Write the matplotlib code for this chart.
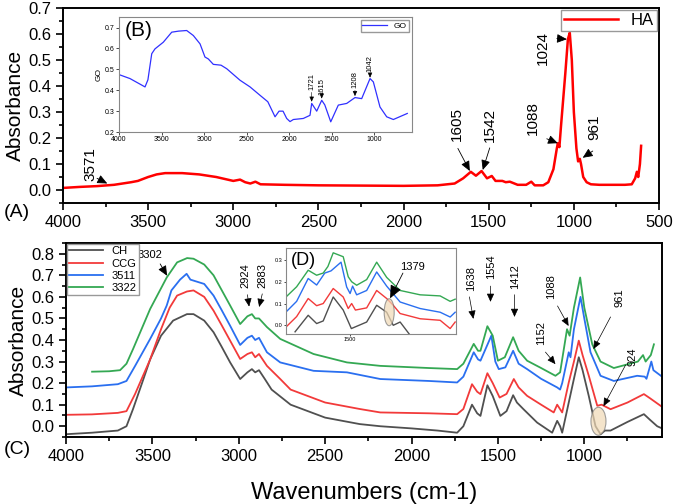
import matplotlib
matplotlib.use('Agg')
import matplotlib.pyplot as plt
from matplotlib.patches import Ellipse
from matplotlib.ticker import MultipleLocator

plt.rcParams['font.family'] = ['Liberation Sans', 'DejaVu Sans']

# ---- data: HA spectrum (panel A) ----
ha_wn = [4000, 3900, 3800, 3700, 3650, 3600, 3560, 3500, 3450, 3400, 3300, 3200,
         3100, 3000, 2960, 2930, 2900, 2870, 2840, 2700, 2500, 2000, 1800, 1700,
         1650, 1605, 1575, 1542, 1510, 1482, 1460, 1420, 1400, 1376, 1330, 1280,
         1250, 1230, 1180, 1150, 1120, 1100, 1094, 1085, 1075, 1050, 1035, 1024,
         1012, 1000, 985, 975, 965, 958, 945, 925, 900, 850, 700, 660, 640, 630,
         622, 612, 605]
ha_abs = [0.008, 0.012, 0.015, 0.02, 0.025, 0.03, 0.035, 0.05, 0.06, 0.065, 0.065,
          0.06, 0.05, 0.035, 0.04, 0.03, 0.025, 0.032, 0.022, 0.02, 0.018, 0.016,
          0.018, 0.025, 0.045, 0.07, 0.055, 0.073, 0.045, 0.054, 0.035, 0.035,
          0.03, 0.032, 0.02, 0.02, 0.032, 0.018, 0.018, 0.03, 0.08, 0.16, 0.18,
          0.165, 0.25, 0.45, 0.58, 0.605, 0.5, 0.3, 0.16, 0.11, 0.12, 0.1, 0.05,
          0.03, 0.022, 0.02, 0.02, 0.022, 0.045, 0.07, 0.05, 0.1, 0.17]

# ---- data: GO spectrum (inset B) ----
go_wn = [4000, 3871, 3694, 3660, 3615, 3577, 3479, 3380, 3300, 3204, 3126, 3047,
         2989, 2950, 2891, 2800, 2733, 2577, 2459, 2342, 2250, 2165, 2118, 2071,
         2028, 1989, 1950, 1833, 1754, 1734, 1675, 1616, 1580, 1510, 1421, 1322,
         1225, 1146, 1048, 1009, 931, 852, 774, 610]
go_abs = [0.475, 0.456, 0.416, 0.45, 0.575, 0.598, 0.63, 0.678, 0.683, 0.686,
          0.662, 0.622, 0.559, 0.55, 0.524, 0.52, 0.503, 0.448, 0.416, 0.376,
          0.345, 0.273, 0.3, 0.3, 0.265, 0.25, 0.26, 0.265, 0.28, 0.337, 0.3,
          0.352, 0.33, 0.249, 0.329, 0.337, 0.365, 0.36, 0.456, 0.44, 0.32,
          0.273, 0.26, 0.289]

# ---- data: panel C spectra ----
ch_wn = [4000, 3850, 3700, 3650, 3612, 3560, 3513, 3450, 3380, 3300, 3262, 3200,
         3146, 3100, 3050, 2992, 2950, 2924, 2905, 2883, 2850, 2810, 2700, 2500,
         2300, 2181, 2000, 1850, 1736, 1700, 1650, 1620, 1601, 1561, 1530, 1486,
         1450, 1412, 1390, 1352, 1273, 1186, 1157, 1140, 1128, 1090, 1060, 1032,
         1010, 974, 935, 906, 880, 848, 750, 655, 620, 578, 550]
ch_abs = [-0.037, -0.03, -0.02, 0.0, 0.08, 0.2, 0.31, 0.42, 0.49, 0.52, 0.52, 0.49,
          0.436, 0.37, 0.296, 0.219, 0.25, 0.265, 0.25, 0.26, 0.22, 0.17, 0.1,
          0.04, 0.01, 0.0, -0.01, -0.02, -0.03, 0.0, 0.10, 0.06, 0.048, 0.19,
          0.14, 0.048, 0.07, 0.144, 0.11, 0.079, 0.017, -0.03, 0.025, 0.0, -0.03,
          0.11, 0.22, 0.32, 0.26, 0.14, 0.0, -0.037, -0.02, -0.02, 0.02, 0.056,
          0.03, 0.0, -0.01]

ccg_wn = [4000, 3850, 3700, 3650, 3600, 3513, 3450, 3400, 3357, 3300, 3262, 3200,
          3146, 3100, 3050, 2992, 2950, 2924, 2905, 2883, 2837, 2760, 2700, 2500,
          2300, 2181, 1900, 1736, 1700, 1650, 1620, 1601, 1561, 1530, 1490, 1450,
          1408, 1380, 1331, 1250, 1177, 1157, 1128, 1090, 1060, 1032, 1010, 974,
          925, 900, 848, 750, 655, 620, 550]
ccg_abs = [0.053, 0.055, 0.062, 0.07, 0.15, 0.31, 0.45, 0.55, 0.606, 0.625, 0.63,
           0.6, 0.536, 0.47, 0.397, 0.312, 0.335, 0.343, 0.32, 0.335, 0.28, 0.219,
           0.17, 0.11, 0.08, 0.064, 0.06, 0.056, 0.08, 0.195, 0.16, 0.149, 0.246,
           0.2, 0.133, 0.15, 0.219, 0.18, 0.141, 0.1, 0.064, 0.10, 0.064, 0.203,
           0.3, 0.397, 0.33, 0.234, 0.095, 0.1, 0.079, 0.11, 0.149, 0.13, 0.09]

s3511_wn = [4000, 3850, 3700, 3650, 3600, 3513, 3450, 3417, 3390, 3340, 3302, 3280,
            3200, 3146, 3100, 3050, 2992, 2950, 2924, 2905, 2883, 2837, 2760, 2567,
            2374, 2181, 1900, 1736, 1700, 1640, 1615, 1601, 1538, 1515, 1495, 1457,
            1412, 1380, 1331, 1250, 1157, 1140, 1128, 1090, 1080, 1060, 1022, 1000,
            964, 906, 829, 694, 650, 640, 612, 600, 550]
s3511_abs = [0.18, 0.185, 0.195, 0.21, 0.28, 0.405, 0.5, 0.56, 0.63, 0.68, 0.707,
             0.68, 0.66, 0.606, 0.54, 0.466, 0.377, 0.41, 0.42, 0.40, 0.41, 0.343,
             0.296, 0.257, 0.25, 0.219, 0.21, 0.203, 0.23, 0.343, 0.31, 0.304, 0.42,
             0.3, 0.265, 0.273, 0.35, 0.29, 0.265, 0.22, 0.18, 0.17, 0.2, 0.343,
             0.32, 0.45, 0.6, 0.5, 0.343, 0.234, 0.21, 0.234, 0.23, 0.22, 0.30,
             0.26, 0.23]

s3322_wn = [3849, 3750, 3687, 3650, 3612, 3513, 3417, 3357, 3299, 3262, 3200, 3146,
            3050, 2992, 2950, 2924, 2905, 2883, 2837, 2760, 2567, 2374, 2181, 1900,
            1736, 1700, 1640, 1615, 1601, 1561, 1530, 1500, 1460, 1412, 1380, 1331,
            1250, 1167, 1140, 1100, 1085, 1060, 1024, 1000, 954, 906, 829, 690, 660,
            645, 615, 597]
s3322_abs = [0.253, 0.255, 0.26, 0.29, 0.358, 0.544, 0.69, 0.76, 0.78, 0.777, 0.75,
             0.70, 0.56, 0.474, 0.51, 0.52, 0.5, 0.5, 0.46, 0.405, 0.335, 0.296,
             0.28, 0.27, 0.265, 0.29, 0.382, 0.35, 0.35, 0.464, 0.42, 0.304, 0.32,
             0.413, 0.35, 0.304, 0.27, 0.234, 0.25, 0.45, 0.42, 0.55, 0.69, 0.55,
             0.38, 0.30, 0.27, 0.30, 0.33, 0.30, 0.33, 0.38]

# ---- data: zoomed region (inset D) ----
d_ch_wn = [1675, 1633, 1606, 1585, 1553, 1521, 1495, 1446, 1414, 1382, 1361, 1339, 1310]
d_ch_abs = [-0.03, 0.046, 0.008, 0.02, 0.13, 0.07, -0.015, 0.015, 0.092, 0.06, 0.0,
            0.015, -0.04]
d_ccg_wn = [1704, 1670, 1633, 1606, 1585, 1553, 1521, 1505, 1494, 1482, 1446, 1414,
            1382, 1361, 1339, 1275, 1211, 1179, 1163]
d_ccg_abs = [-0.008, 0.04, 0.123, 0.09, 0.1, 0.169, 0.13, 0.077, 0.1, 0.07, 0.08,
             0.16, 0.123, 0.092, 0.054, 0.03, 0.023, -0.015, 0.015]
d_3511_wn = [1704, 1670, 1633, 1606, 1580, 1560, 1528, 1510, 1499, 1491, 1478, 1446,
             1414, 1382, 1339, 1275, 1211, 1179, 1163]
d_3511_abs = [0.061, 0.11, 0.215, 0.185, 0.24, 0.25, 0.29, 0.176, 0.146, 0.18, 0.14,
              0.16, 0.245, 0.18, 0.107, 0.077, 0.06, 0.038, 0.06]
d_3322_wn = [1704, 1670, 1633, 1606, 1585, 1570, 1553, 1521, 1505, 1494, 1478, 1446,
             1414, 1382, 1339, 1275, 1211, 1179, 1163]
d_3322_abs = [0.13, 0.177, 0.253, 0.23, 0.24, 0.27, 0.333, 0.315, 0.223, 0.2, 0.184,
              0.21, 0.29, 0.22, 0.16, 0.14, 0.135, 0.11, 0.12]

c_names = ['CH', 'CCG', '3511', '3322']
c_colors = ['#505050', '#f23a3a', '#2a6ff0', '#34a853']


def style_main(ax, ymin, ymax, xmin, xmax):
    ax.set_xlim(xmin, xmax)
    ax.set_ylim(ymin, ymax)
    ax.xaxis.set_major_locator(MultipleLocator(500))
    ax.xaxis.set_minor_locator(MultipleLocator(250))
    ax.yaxis.set_major_locator(MultipleLocator(0.1))
    ax.yaxis.set_minor_locator(MultipleLocator(0.05))
    ax.tick_params(which='both', direction='out', top=False, right=False, width=1.2,
                   labelsize=12)
    ax.tick_params(which='major', length=5)
    ax.tick_params(which='minor', length=3)
    for s in ax.spines.values():
        s.set_linewidth(1.4)
    ax.yaxis.set_major_formatter(matplotlib.ticker.FormatStrFormatter('%.1f'))


def arrow(ax, tail, tip, lw=0.6, head=0.6):
    ax.annotate('', xy=tip, xytext=tail,
                arrowprops=dict(arrowstyle='-|>,head_length=%g,head_width=%g' % (head, head * 0.45),
                                color='black', lw=lw, shrinkA=0, shrinkB=0))


fig = plt.figure(figsize=(6.75, 5.04), dpi=100)

# ---------------- panel A ----------------
axA = fig.add_axes([0.0933, 0.5972, 0.883, 0.3869])
axA.plot(ha_wn, ha_abs, color='#ff0000', lw=1.8, label='HA')
style_main(axA, -0.05, 0.7, 4000, 500)
axA.set_ylabel('Absorbance', fontsize=15, labelpad=2)
axA.legend(loc='upper right', fontsize=12, handlelength=3.2, fancybox=False,
           edgecolor='#999999', borderpad=0.2, borderaxespad=0.1, framealpha=1)

top_labels = [('3571', (3840, 0.1), (3800, 0.045), (3740, 0.025)),
              ('1605', (1687, 0.255), (1681, 0.16), (1611, 0.073)),
              ('1542', (1494, 0.25), (1494, 0.162), (1535, 0.077)),
              ('1088', (1241, 0.278), (1159, 0.197), (1094, 0.18)),
              ('1024', (1182, 0.548), (1100, 0.583), (1041, 0.58)),
              ('961', (883, 0.243), (889, 0.15), (948, 0.124))]
for txt, pos, tail, tip in top_labels:
    axA.text(pos[0], pos[1], txt, rotation=90, ha='center', va='center', fontsize=11)
    arrow(axA, tail, tip)
fig.text(0.005, 0.578, '(A)', fontsize=14, ha='left', va='center')

# ---------------- inset B ----------------
axB = fig.add_axes([0.1763, 0.738, 0.434, 0.228])
axB.plot(go_wn, go_abs, color='#3030ff', lw=0.9, label='GO')
axB.set_xlim(4000, 555)
axB.set_ylim(0.2, 0.75)
axB.xaxis.set_major_locator(MultipleLocator(500))
axB.yaxis.set_major_locator(MultipleLocator(0.1))
axB.tick_params(labelsize=5, length=2, width=0.5, pad=1)
axB.set_ylabel('GO', fontsize=6, labelpad=2)
for s in axB.spines.values():
    s.set_color('#888888')
    s.set_linewidth(0.8)
axB.legend(loc='upper right', fontsize=6, handlelength=3, fancybox=False,
           edgecolor='#999999', borderpad=0.2, borderaxespad=0.4, framealpha=1)
axB.text(0.02, 0.97, '(B)', transform=axB.transAxes, fontsize=15, ha='left', va='top')
for txt, pos, tip in [('1721', (1734, 0.44), (1734, 0.345)),
                      ('1615', (1616, 0.42), (1616, 0.36)),
                      ('1208', (1225, 0.45), (1225, 0.372)),
                      ('1042', (1048, 0.53), (1048, 0.46))]:
    axB.text(pos[0], pos[1], txt, rotation=90, ha='center', va='center', fontsize=5.5)
    arrow(axB, (pos[0], pos[1] - 0.05), tip, lw=0.4, head=0.3)

# ---------------- panel C ----------------
axC = fig.add_axes([0.0978, 0.1329, 0.883, 0.385])
for wn, ab, name, col in [(ch_wn, ch_abs, 'CH', c_colors[0]),
                          (ccg_wn, ccg_abs, 'CCG', c_colors[1]),
                          (s3511_wn, s3511_abs, '3511', c_colors[2]),
                          (s3322_wn, s3322_abs, '3322', c_colors[3])]:
    axC.plot(wn, ab, color=col, lw=1.3, label=name)
style_main(axC, -0.05, 0.85, 4000, 550)
axC.set_ylabel('Absorbance', fontsize=15, labelpad=2)
axC.set_xlabel('Wavenumbers (cm-1)', fontsize=17, labelpad=13)
axC.legend(loc='upper left', fontsize=8, handlelength=3, fancybox=False,
           edgecolor='#999999', borderpad=0.2, borderaxespad=0.1, framealpha=1,
           labelspacing=0.2)
fig.text(0.005, 0.108, '(C)', fontsize=14, ha='left', va='center')

axC.text(3513, 0.795, '3302', ha='center', va='center', fontsize=8)
arrow(axC, (3455, 0.753), (3415, 0.698))
bottom_labels = [('2924', (2963, 0.70), (2950, 0.61), (2940, 0.555)),
                 ('2883', (2864, 0.70), (2864, 0.614), (2882, 0.553)),
                 ('1638', (1653, 0.684), (1665, 0.6), (1642, 0.498)),
                 ('1554', (1538, 0.74), (1543, 0.65), (1543, 0.577)),
                 ('1412', (1399, 0.693), (1404, 0.61), (1404, 0.507)),
                 ('1152', (1248, 0.433), (1225, 0.344), (1167, 0.288)),
                 ('1088', (1190, 0.647), (1155, 0.558), (1091, 0.465)),
                 ('961', (796, 0.595), (848, 0.507), (947, 0.358)),
                 ('924', (721, 0.32), (761, 0.284), (889, 0.093))]
for txt, pos, tail, tip in bottom_labels:
    axC.text(pos[0], pos[1], txt, rotation=90, ha='center', va='center', fontsize=8)
    arrow(axC, tail, tip, lw=0.5, head=0.5)
axC.add_patch(Ellipse((918, 0.023), 87, 0.13, facecolor='#f0d9b5', alpha=0.7,
                      edgecolor='#777777', lw=0.8, zorder=5))

# ---------------- inset D ----------------
axD = fig.add_axes([0.4237, 0.3373, 0.252, 0.1706])
for wn, ab, col in [(d_ch_wn, d_ch_abs, c_colors[0]),
                    (d_ccg_wn, d_ccg_abs, c_colors[1]),
                    (d_3511_wn, d_3511_abs, c_colors[2]),
                    (d_3322_wn, d_3322_abs, c_colors[3])]:
    axD.plot(wn, ab, color=col, lw=1.0)
axD.set_xlim(1704, 1160)
axD.set_ylim(-0.04, 0.355)
axD.set_xticks([1500])
axD.set_yticks([0.0, 0.1, 0.2, 0.3])
axD.tick_params(labelsize=4, length=1.5, width=0.5, pad=1)
for s in axD.spines.values():
    s.set_color('#888888')
    s.set_linewidth(0.8)
axD.text(0.03, 0.95, '(D)', transform=axD.transAxes, fontsize=13, ha='left', va='top')
axD.text(1301, 0.267, '1379', ha='center', va='center', fontsize=8)
arrow(axD, (1330, 0.24), (1371, 0.124), lw=0.6, head=0.8)
axD.add_patch(Ellipse((1374, 0.06), 32, 0.124, facecolor='#f0d9b5', alpha=0.7,
                      edgecolor='#777777', lw=0.8, zorder=5))

fig.savefig('out.png', dpi=100)
